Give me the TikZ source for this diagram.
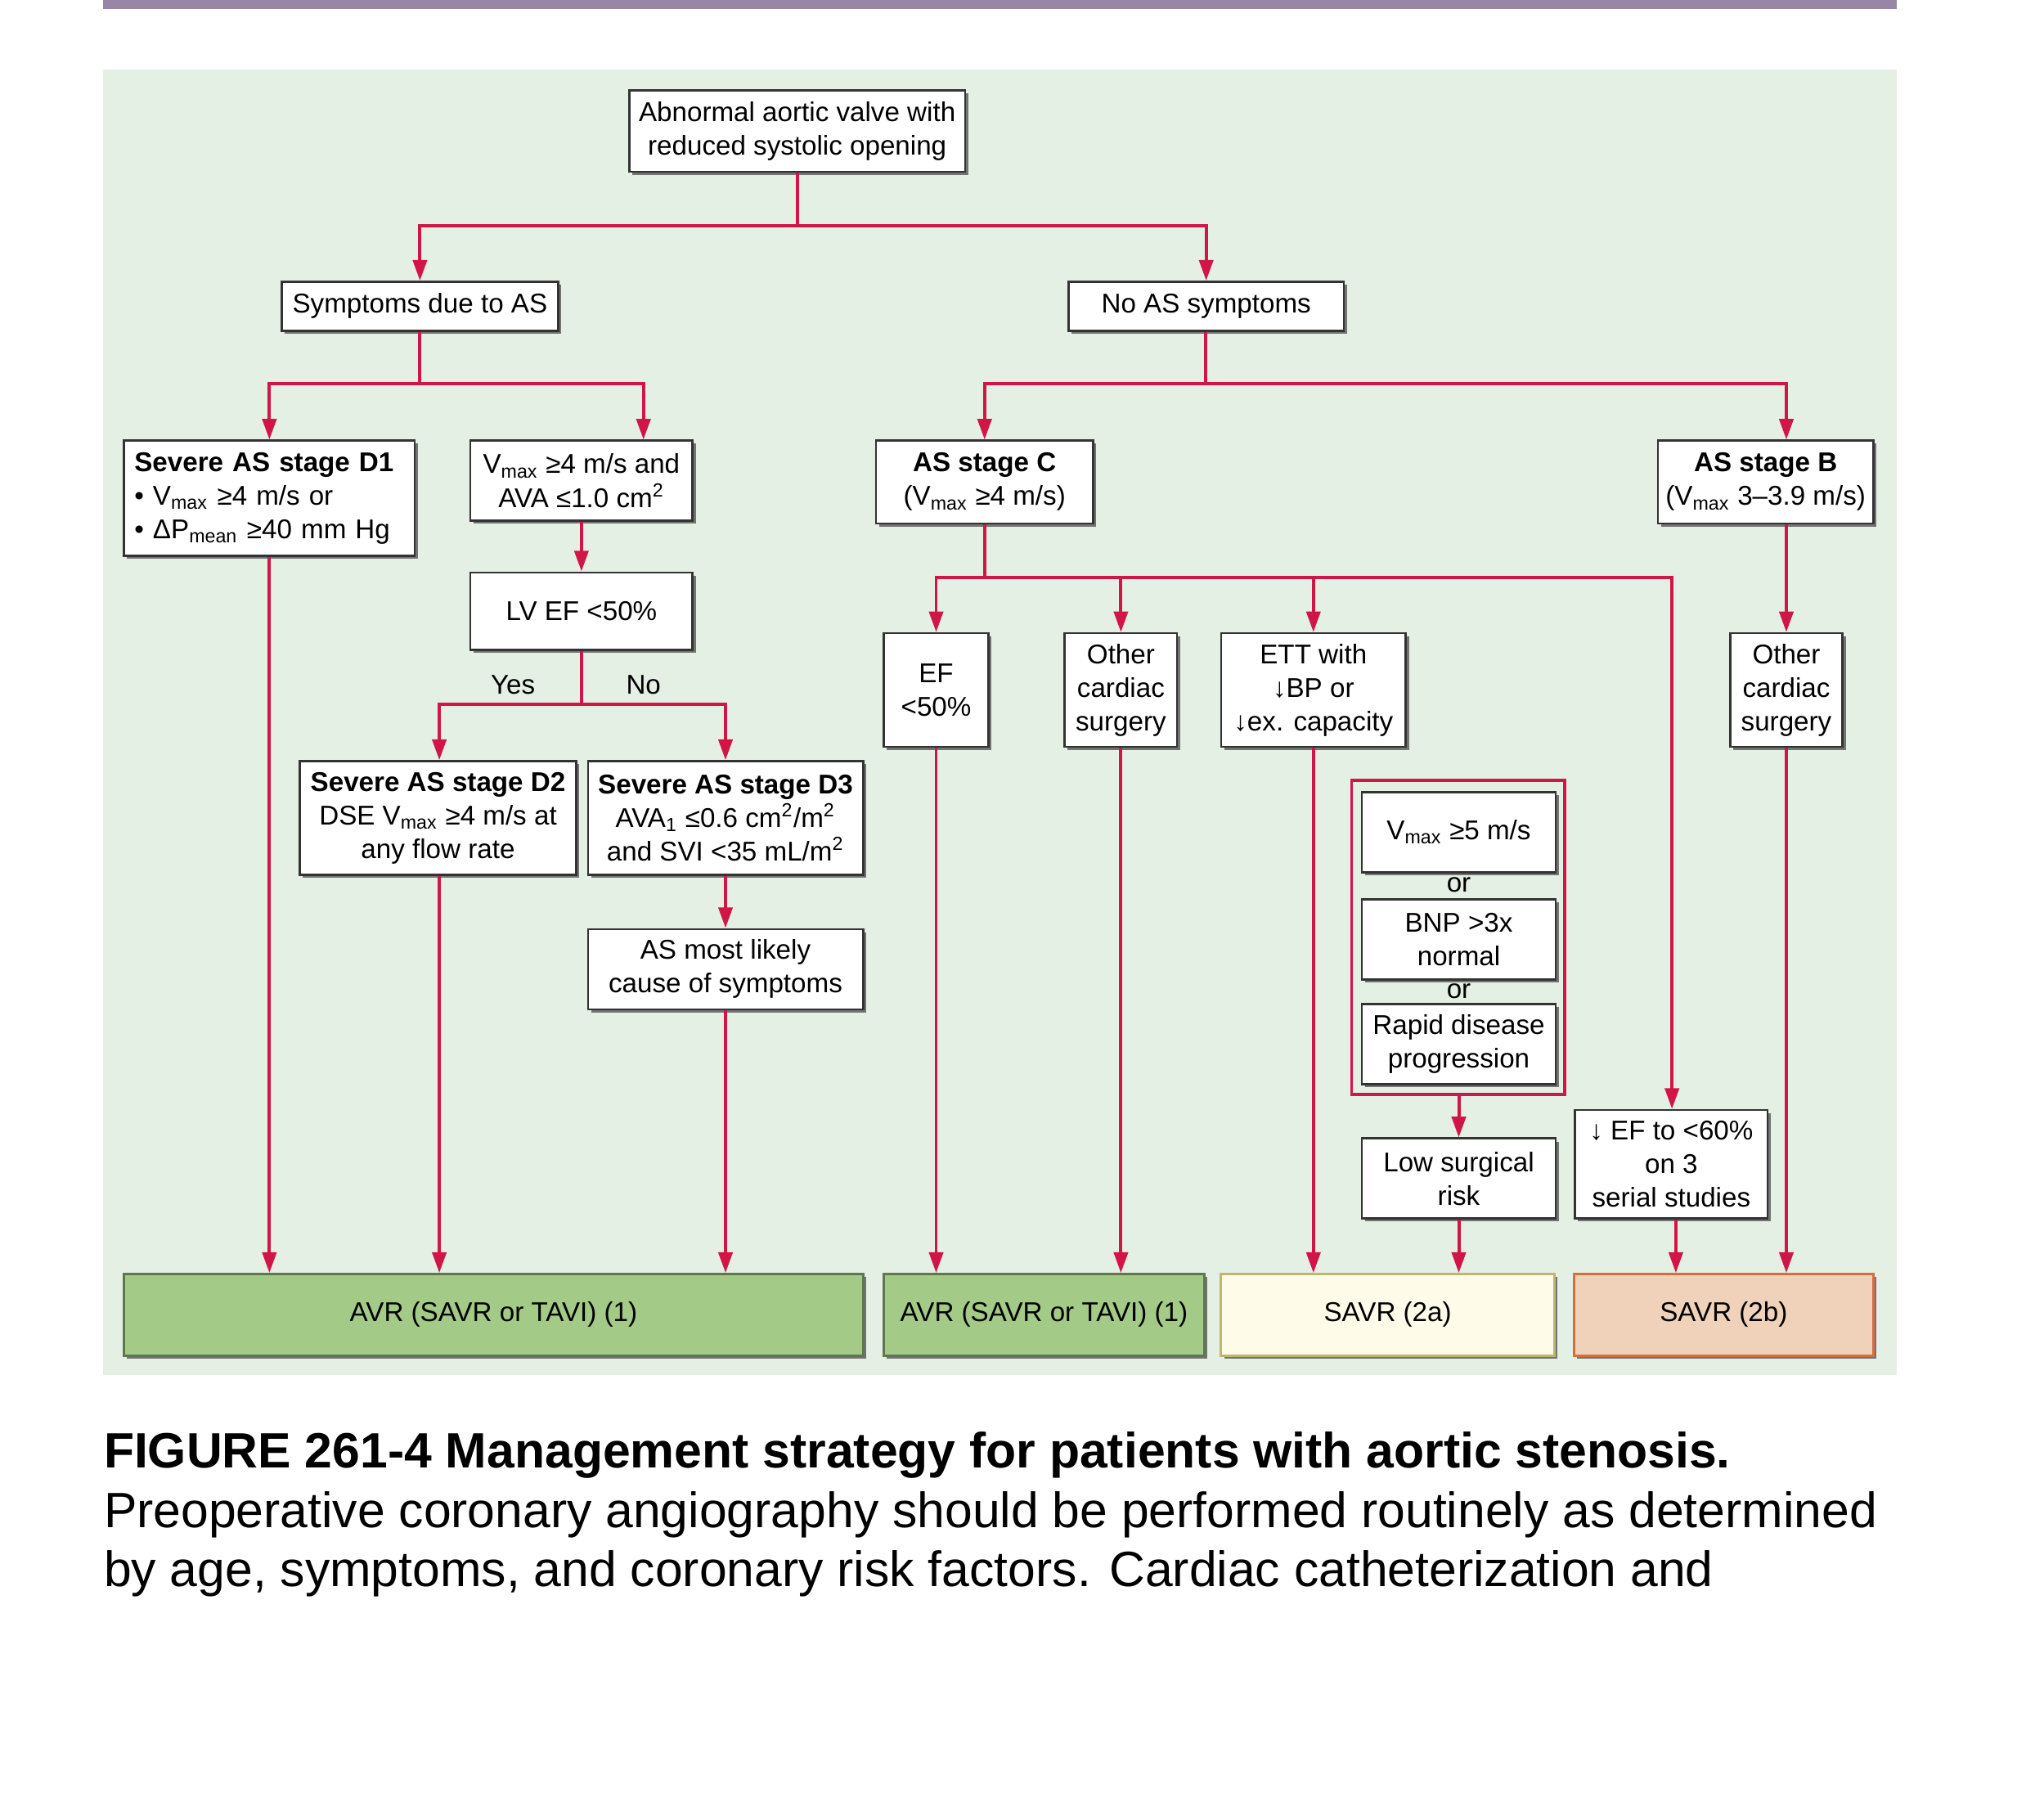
\documentclass[tikz,border=0pt]{standalone}
\usepackage{fontspec}
\setmainfont{Liberation Sans}
\usetikzlibrary{arrows.meta,shadows}
\definecolor{asred}{RGB}{208,22,70}
\definecolor{bggreen}{RGB}{229,240,229}
\definecolor{barpurple}{RGB}{152,134,168}
\definecolor{avrgreen}{RGB}{163,202,134}
\definecolor{avrgreenD}{RGB}{95,118,85}
\definecolor{yelfill}{RGB}{254,252,232}
\definecolor{yeldraw}{RGB}{192,182,115}
\definecolor{peachfill}{RGB}{240,210,186}
\definecolor{peachdraw}{RGB}{212,112,62}
\newcommand\sub[1]{\textsubscript{#1}}
\newcommand\super[1]{\textsuperscript{#1}}
\begin{document}
\begin{tikzpicture}[x=0.5pt,y=-0.5pt,
  wh/.style 2 args={minimum width=#1pt, minimum height=#2pt},
  box/.style={draw=black!80, line width=0.8pt, fill=white,
    drop shadow={shadow xshift=1.2pt, shadow yshift=-1.2pt, fill=black!55, opacity=1},
    align=center, inner sep=2pt, font=\fontsize{10.5}{13}\selectfont},
  endbox/.style={box, line width=0.9pt},
  framebox/.style={draw=asred, line width=1.2pt, inner sep=0pt},
  txt/.style={inner sep=1pt, font=\fontsize{10.5}{13}\selectfont},
  ln/.style={draw=asred, line width=1.25pt},
  arr/.style={ln, -{Triangle[length=8pt,width=5.4pt]}},
  captxt/.style={anchor=base west, inner sep=0pt, font=\fontsize{19.2}{23}\selectfont}
]
\fill[white] (0,0) rectangle (1568,1408);
\useasboundingbox (0,0) rectangle (1568,1408);
\fill[barpurple] (80,0) rectangle (1468,7);
\fill[bggreen] (80,54) rectangle (1468,1064);

% nodes
\node[box, wh={130}{31.5}] (top) at (617,101.5) {Abnormal aortic valve with\\reduced systolic opening};
\node[box, wh={107}{19}] (symp) at (325,237) {Symptoms due to AS};
\node[box, wh={106.5}{19}] (noas) at (933.5,237) {No AS symptoms};
\node[box, wh={112.5}{44.5}, align=left, text width=104.5pt, inner xsep=4pt] (d1) at (208.5,385.5)
  {\textbf{Severe AS stage D1}\\• V\sub{max} ≥4 m/s or\\• ΔP\sub{mean} ≥40 mm Hg};
\node[box, wh={86}{31}] (vmax) at (450,372) {V\sub{max} ≥4 m/s and\\AVA ≤1.0 cm\super{2}};
\node[box, wh={86}{30}] (lvef) at (450,473) {LV EF <50\%};
\node[box, wh={107}{44}] (d2) at (339,633) {\textbf{Severe AS stage D2}\\DSE V\sub{max} ≥4 m/s at\\any flow rate};
\node[box, wh={106.5}{44}] (d3) at (561.5,633) {\textbf{Severe AS stage D3}\\AVA\sub{1} ≤0.6 cm\super{2}/m\super{2}\\and SVI <35 mL/m\super{2}};
\node[box, wh={106.5}{31}] (likely) at (561.5,750) {AS most likely\\cause of symptoms};
\node[box, wh={84}{32}] (stc) at (762,373) {\textbf{AS stage C}\\(V\sub{max} ≥4 m/s)};
\node[box, wh={83.5}{32}] (stb) at (1366.5,373) {\textbf{AS stage B}\\(V\sub{max} 3–3.9 m/s)};
\node[box, wh={40.5}{44}] (ef50) at (724.5,534) {EF\\<50\%};
\node[box, wh={43.5}{44}] (ocs1) at (867.5,534) {Other\\cardiac\\surgery};
\node[box, wh={71.5}{44}] (ett) at (1016.5,534) {ETT with\\↓BP or\\↓ex. capacity};
\node[box, wh={43.5}{44}] (ocs2) at (1382.5,534) {Other\\cardiac\\surgery};
\node[framebox, wh={82.5}{121.5}] (crit) at (1128.5,725.5) {};
\node[box, wh={75}{31}] (v5) at (1129,644) {V\sub{max} ≥5 m/s};
\node[txt] (or1) at (1129,685) {or};
\node[box, wh={75}{31}] (bnp) at (1129,727) {BNP >3x\\normal};
\node[txt] (or2) at (1129,767) {or};
\node[box, wh={75}{31}] (rapid) at (1129,808) {Rapid disease\\progression};
\node[box, wh={75}{31}] (low) at (1129,912) {Low surgical\\risk};
\node[box, wh={74.5}{42}] (ef60) at (1293.5,901) {↓ EF to <60\%\\on 3\\serial studies};
\node[endbox, fill=avrgreen, draw=avrgreenD, wh={286}{31.5}] (avr1) at (382,1017.5) {AVR (SAVR or TAVI) (1)};
\node[endbox, fill=avrgreen, draw=avrgreenD, wh={124}{31.5}] (avr2) at (808,1017.5) {AVR (SAVR or TAVI) (1)};
\node[endbox, fill=yelfill, draw=yeldraw, wh={129}{31.5}] (s2a) at (1074,1017.5) {SAVR (2a)};
\node[endbox, fill=peachfill, draw=peachdraw, wh={116}{31.5}] (s2b) at (1334,1017.5) {SAVR (2b)};

% labels
\node[txt] (yes) at (397,530) {Yes};
\node[txt] (no) at (498,530) {No};

% junctions
\coordinate (j1) at (617,175);
\coordinate (j2) at (325,297);
\coordinate (j3) at (450,545);
\coordinate (j4) at (933,297);
\coordinate (j5) at (762,447);

% connectors
\draw[ln] (top.south) -- (j1);
\draw[arr] (j1) -| (symp.north);
\draw[arr] (j1) -| (noas.north);
\draw[ln] (symp.south) -- (j2);
\draw[arr] (j2) -| (d1.north);
\draw[arr] (j2) -| (vmax.north -| 498,0);
\draw[arr] (vmax.south) -- (lvef.north);
\draw[ln] (lvef.south) -- (j3);
\draw[arr] (j3) -| (d2.north -| 340,0);
\draw[arr] (j3) -| (d3.north);
\draw[arr] (d3.south) -- (likely.north);
\draw[arr] (d1.south) -- (avr1.north -| d1.south);
\draw[arr] (d2.south -| 340,0) -- (avr1.north -| 340,0);
\draw[arr] (likely.south) -- (avr1.north -| likely.south);

\draw[ln] (noas.south -| j4) -- (j4);
\draw[arr] (j4) -| (stc.north);
\draw[arr] (j4) -| (stb.north -| 1382.5,0);
\draw[ln] (stc.south) -- (j5);
\draw[arr] (j5) -| (ef50.north);
\draw[arr] (j5) -| (ocs1.north);
\draw[arr] (j5) -| (ett.north);
\draw[arr] (j5) -| (ef60.north -| 1294,0);
\draw[arr] (stb.south -| ocs2.north) -- (ocs2.north);

\draw[arr] (ef50.south) -- (avr2.north -| ef50.south);
\draw[arr] (ocs1.south) -- (avr2.north -| ocs1.south);
\draw[arr] (ett.south) -- (s2a.north -| ett.south);
\draw[arr] (crit.south -| low.north) -- (low.north);
\draw[arr] (low.south) -- (s2a.north -| low.south);
\draw[arr] (ef60.south -| 1297,0) -- (s2b.north -| 1297,0);
\draw[arr] (ocs2.south) -- (s2b.north -| ocs2.south);

% caption
\node[captxt, font=\fontsize{19.2}{23}\selectfont\bfseries] (cap1) at (80,1136) {FIGURE 261-4 Management strategy for patients with aortic stenosis.};
\node[captxt] (cap2) at (80,1182) {Preoperative coronary angiography should be performed routinely as determined};
\node[captxt] (cap3) at (80,1228) {by age, symptoms, and coronary risk factors. Cardiac catheterization and};
\end{tikzpicture}
\end{document}
